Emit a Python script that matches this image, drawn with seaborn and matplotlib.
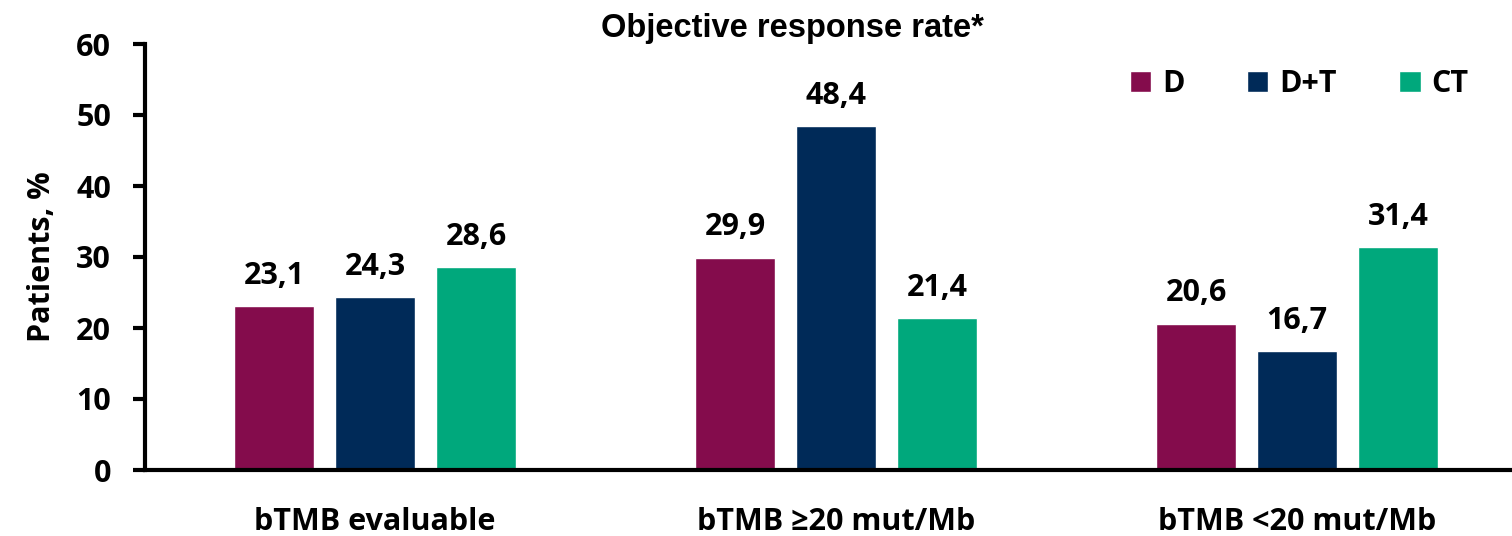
import matplotlib
matplotlib.use("Agg")
import matplotlib.pyplot as plt
import seaborn as sns
import pandas as pd

# Objective response rate by bTMB subgroup and treatment arm
groups = ["bTMB evaluable", "bTMB ≥20 mut/Mb", "bTMB <20 mut/Mb"]
arms = ["D", "D+T", "CT"]
rate_d = [23.1, 29.9, 20.6]
rate_dt = [24.3, 48.4, 16.7]
rate_ct = [28.6, 21.4, 31.4]
palette = ["#840C4C", "#002A58", "#00A87C"]

df = pd.DataFrame({
    "group": groups * 3,
    "arm": [a for a in arms for _ in groups],
    "rate": rate_d + rate_dt + rate_ct,
})

sns.set_theme(style="white")
plt.rcParams["font.family"] = ["Open Sans", "DejaVu Sans"]
plt.rcParams["font.weight"] = "bold"
plt.rcParams["text.color"] = "black"
plt.rcParams["axes.labelcolor"] = "black"
plt.rcParams["xtick.color"] = "black"
plt.rcParams["ytick.color"] = "black"
FS = 22

fig = plt.figure(figsize=(15.12, 5.36), dpi=100)
ax = fig.add_axes([144.5 / 1512, 66 / 536, 1383 / 1512, 426 / 536])

sns.barplot(data=df, x="group", y="rate", hue="arm", order=groups,
            hue_order=arms, palette=palette, width=0.657, gap=0.2,
            saturation=1, errorbar=None, ax=ax)

for cont in ax.containers:
    ax.bar_label(cont, labels=[f"{v:.1f}".replace(".", ",") for v in cont.datavalues],
                 padding=11, fontsize=FS, fontweight="bold", color="black")

ax.set_ylim(0, 60)
ax.set_xlim(-0.5, 2.5)
ax.set_yticks(range(0, 61, 10))
ax.set_xlabel("")
ax.set_ylabel("Patients, %", fontsize=FS, fontweight="bold", labelpad=14,
              color="black")
ax.tick_params(axis="y", left=True, length=9, width=3, color="black",
               labelsize=FS, pad=15, direction="out")
ax.tick_params(axis="x", bottom=False, length=0, labelsize=FS, pad=27)
for lbl in ax.get_xticklabels() + ax.get_yticklabels():
    lbl.set_fontweight("bold")
    lbl.set_color("black")

for side in ["top", "right"]:
    ax.spines[side].set_visible(False)
for side in ["left", "bottom"]:
    ax.spines[side].set_linewidth(3)
    ax.spines[side].set_color("black")

handles, labels = ax.get_legend_handles_labels()
ax.get_legend().remove()
fig.legend(handles, labels, loc="center left",
           bbox_to_anchor=(1130 / 1512, 1 - 84 / 536),
           bbox_transform=fig.transFigure, ncol=3, frameon=False,
           borderpad=0, borderaxespad=0, handlelength=0.69, handleheight=0.69,
           handletextpad=0.36, columnspacing=2.05, labelcolor="black",
           prop={"weight": "bold", "size": FS})

fig.text(792 / 1512, 1 - 28 / 536, "Objective response rate*", ha="center",
         va="center", fontsize=23.5, fontweight="bold", color="black",
         family=["Liberation Sans Narrow", "Liberation Sans", "DejaVu Sans"])

fig.savefig("out.png", dpi=100)
